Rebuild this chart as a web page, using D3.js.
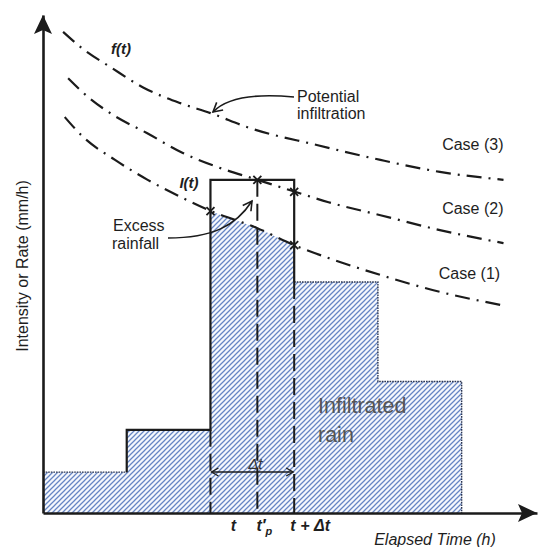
<!DOCTYPE html>
<html>
<head>
<meta charset="utf-8">
<script src="https://cdn.jsdelivr.net/npm/d3@7/dist/d3.min.js"></script>
<style>
  html, body { margin: 0; padding: 0; background: #fff; }
  svg { display: block; font-family: "Liberation Sans", Arial, sans-serif; }
</style>
</head>
<body>
<svg id="chart" width="542" height="547"></svg>
<script>
// Hyetograph: rainfall intensity per 1-h interval (mm/h)
const binEdges = [0, 1, 2, 3, 4, 5];
const rainfall = [8.2, 16.7, 66.9, 46.4, 26.4];

// Potential infiltration capacity curves f(t) for three soil cases (time h, rate mm/h)
const case3 = [[0.24, 96.6], [0.49, 93.0], [0.80, 89.6], [1.19, 85.5], [1.64, 82.3], [2.00, 80.3],
               [2.47, 77.3], [3.27, 73.9], [4.03, 70.9], [4.74, 68.5], [5.50, 66.9]];
const case2 = [[0.30, 87.3], [0.54, 83.5], [0.84, 79.9], [1.24, 76.3], [1.67, 72.3], [2.08, 69.5],
               [2.56, 66.9], [3.01, 64.5], [3.41, 62.4], [4.03, 59.8], [4.74, 56.8], [5.50, 54.2]];
const case1 = [[0.26, 79.5], [0.48, 75.5], [0.86, 70.9], [1.25, 66.9], [1.64, 63.5], [2.01, 60.6],
               [2.56, 57.2], [3.00, 53.8], [3.41, 51.2], [4.03, 47.8], [4.74, 44.4], [5.46, 41.8]];
const caseNames = ["Case (1)", "Case (2)", "Case (3)"];

// Key times on the time axis
const tStart = 2, tPond = 2.56, tEnd = 3;
const timeLabels = ["t", "t′", "t + Δt"];

// Points where the curves meet the hyetograph
const crossings = [[2.0, 60.6], [3.0, 53.8], [2.56, 66.9], [3.0, 64.5]];

const svg = d3.select("#chart");
const x = d3.scaleLinear().domain([0, 5.9]).range([43, 537]);
const y = d3.scaleLinear().domain([0, 100]).range([513, 15]);
const ink = "#1b1b1b";

const defs = svg.append("defs");
const pat = defs.append("pattern").attr("id", "hatch")
  .attr("width", 5).attr("height", 5).attr("patternUnits", "userSpaceOnUse");
pat.append("rect").attr("width", 5).attr("height", 5).attr("fill", "#f6f8fd");
pat.append("path").attr("d", "M-1,1 l2,-2 M0,5 l5,-5 M4,6 l2,-2")
  .attr("stroke", "#6786c4").attr("stroke-width", 1.25);

const smooth = d3.curveMonotoneX;
const line = d3.line().x(d => x(d[0])).y(d => y(d[1])).curve(smooth);

// Infiltrated portion: hyetograph clipped under the Case (1) curve
const clip = defs.append("clipPath").attr("id", "underCase1");
clip.append("path").attr("d", d3.area().x(d => x(d[0])).y0(y(0)).y1(d => y(d[1])).curve(smooth)(case1));
clip.append("rect").attr("x", x(0)).attr("y", y(100)).attr("width", x(case1[0][0]) - x(0)).attr("height", y(0) - y(100));

const steps = [];
rainfall.forEach((v, i) => { steps.push([binEdges[i], v]); steps.push([binEdges[i + 1], v]); });
const stepPts = [[0, 0], ...steps, [binEdges[binEdges.length - 1], 0]];
const stepLine = d3.line().x(d => x(d[0])).y(d => y(d[1]));

svg.append("path").attr("d", stepLine(stepPts) + "Z")
  .attr("fill", "url(#hatch)").attr("clip-path", "url(#underCase1)");

// Thin boundary of the low bars
const edge = "#2c3652";
svg.append("path").attr("d", stepLine([[0, rainfall[0]], [1, rainfall[0]]]))
  .attr("fill", "none").attr("stroke", edge).attr("stroke-width", 1.4).attr("stroke-dasharray", "1.6,1");
svg.append("path").attr("d", stepLine([[3, rainfall[3]], [4, rainfall[3]], [4, rainfall[4]], [5, rainfall[4]], [5, 0]]))
  .attr("fill", "none").attr("stroke", edge).attr("stroke-width", 1.4).attr("stroke-dasharray", "1.6,1");

// Solid outline of the rising limb and peak interval
svg.append("path").attr("d", stepLine([[1, rainfall[0]], [1, rainfall[1]], [2, rainfall[1]], [2, rainfall[2]], [3, rainfall[2]], [3, rainfall[3]]]))
  .attr("fill", "none").attr("stroke", ink).attr("stroke-width", 2.2);

// Dashed time markers
const dashV = (t, top) => svg.append("line")
  .attr("x1", x(t)).attr("x2", x(t)).attr("y1", y(top)).attr("y2", y(0))
  .attr("stroke", ink).attr("stroke-width", 2).attr("stroke-dasharray", "17,7");
dashV(tStart, rainfall[1]);
dashV(tPond, rainfall[2]);
dashV(tEnd, rainfall[3]);

// Infiltration curves (dash-dot)
[case1, case2, case3].forEach(c => {
  svg.append("path").attr("d", line(c)).attr("fill", "none")
    .attr("stroke", ink).attr("stroke-width", 2.2).attr("stroke-dasharray", "15,7,2,7");
});

// Crossing marks
crossings.forEach(p => {
  const cx = x(p[0]), cy = y(p[1]), s = 4;
  svg.append("path").attr("d", `M${cx - s},${cy - s}L${cx + s},${cy + s}M${cx - s},${cy + s}L${cx + s},${cy - s}`)
    .attr("stroke", ink).attr("stroke-width", 1.8);
});

// Axes with arrowheads
const yAxis = svg.append("g").attr("transform", `translate(${x(0)},0)`)
  .call(d3.axisLeft(y).tickValues([]).tickSizeOuter(0));
const xAxis = svg.append("g").attr("transform", `translate(0,${y(0)})`)
  .call(d3.axisBottom(x).tickValues([]).tickSizeOuter(0));
[yAxis, xAxis].forEach(g => g.select(".domain").attr("stroke", ink).attr("stroke-width", 2.6));
const head = "M0,0 L-9,19 L0,15 L9,19 Z";
svg.append("path").attr("d", head).attr("fill", ink).attr("transform", `translate(${x(0)},${y(100)})`);
svg.append("path").attr("d", head).attr("fill", ink).attr("transform", `translate(${x(5.9)},${y(0)}) rotate(90)`);

// Δt span arrow
const dy = 472;
svg.append("line").attr("x1", x(tStart) + 1).attr("x2", x(tEnd) - 1).attr("y1", dy).attr("y2", dy)
  .attr("stroke", ink).attr("stroke-width", 1.3);
svg.append("path").attr("d", `M${x(tStart) + 8},${dy - 4}L${x(tStart) + 1},${dy}L${x(tStart) + 8},${dy + 4}M${x(tEnd) - 8},${dy - 4}L${x(tEnd) - 1},${dy}L${x(tEnd) - 8},${dy + 4}`)
  .attr("fill", "none").attr("stroke", ink).attr("stroke-width", 1.3);
svg.append("text").attr("x", x((tStart + tEnd) / 2) + 3).attr("y", 469).attr("text-anchor", "middle")
  .attr("font-size", 15).attr("font-style", "italic").attr("fill", "#333").text("Δt");

// Callout arrows
const callout = (d, tip, ang) => {
  svg.append("path").attr("d", d).attr("fill", "none").attr("stroke", ink).attr("stroke-width", 1.6);
  svg.append("path").attr("d", "M-5,-9 L0,0 L5,-9").attr("fill", "none").attr("stroke", ink).attr("stroke-width", 1.6)
    .attr("transform", `translate(${tip[0]},${tip[1]}) rotate(${ang})`);
};
callout("M294,97 C262,94 228,96 213,112", [213, 112], 50);
callout("M168,238 C212,238 236,226 252,201", [252, 201], -145);

// Text labels
const txt = (s, tx, ty, opts = {}) => svg.append("text").attr("x", tx).attr("y", ty)
  .attr("font-size", opts.size || 16).attr("text-anchor", opts.anchor || "start")
  .attr("font-style", opts.italic ? "italic" : "normal").attr("font-weight", opts.weight || "normal")
  .attr("fill", opts.fill || "#1e1e1e").text(s);

txt("f(t)", 121, 54, { anchor: "middle", italic: true, size: 15, weight: "bold" });
txt("I(t)", 189, 188, { anchor: "middle", italic: true, size: 15, weight: "bold" });
txt("Potential", 297, 102);
txt("infiltration", 297, 119);
txt("Excess", 113, 231);
txt("rainfall", 112, 249);

const caseEnds = [case1, case2, case3].map(c => c[c.length - 1]);
const caseOffsets = [-26, -29, -30];
caseNames.forEach((n, i) => txt(n, x(caseEnds[i][0]), y(caseEnds[i][1]) + caseOffsets[i], { anchor: "end" }));

txt("Infiltrated", 318, 413, { size: 21.5, fill: "#555" });
txt("rain", 318, 442, { size: 21.5, fill: "#555" });

// Time axis labels
const labelY = 531;
txt(timeLabels[0], x(tStart) + 23, labelY, { anchor: "middle", italic: true, weight: "bold" });
const tp = txt(timeLabels[1], x(tPond) + 7, labelY, { anchor: "middle", italic: true, weight: "bold" });
tp.append("tspan").attr("font-size", 11).attr("dy", 4).text("p");
txt(timeLabels[2], x(tEnd) + 16, labelY, { anchor: "middle", italic: true, weight: "bold" });
txt("Elapsed Time (h)", 435, 545, { anchor: "middle", italic: true });

svg.append("text").attr("transform", "translate(28,266) rotate(-90)").attr("text-anchor", "middle")
  .attr("font-size", 16).attr("fill", "#1e1e1e").text("Intensity or Rate (mm/h)");
</script>
</body>
</html>
